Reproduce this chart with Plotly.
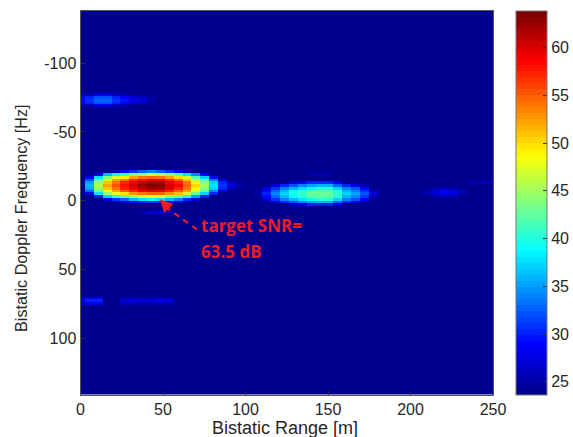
import numpy as np
import plotly.graph_objects as go

FLOOR = 23.7
RANGE_STEP = 5.38
DOPPLER_STEP = 2

# Each band: first Doppler row [Hz], first range-cell index, then dB values by row
main_start = (-21, 1)
main_band = [
    [24,24,24,26,28,31,33,34,33,31,29,26,24,24,24,24,24,24],
    [24,28,36,39,41,44,45,47,46,44,42,38,34,29,24,24,24,24],
    [28,38,44,47,49,52,54,55,54,52,50,47,42,37,29,24,24,24],
    [32,42,49,52,54,57,58,60,59,57,55,51,47,42,34,27,24,24],
    [35,45,51,54,57,59,61,62,62,59,57,54,49,44,37,30,26,24],
    [36,46,52.5,55.5,58,60.5,62,63.5,63,60.5,58.5,55,50.5,45.5,38,31,27,25.5],
    [35,45,51,54,57,59,61,62.5,62,59.5,57,54,49,44,37,30,26,24],
    [33,43,49,52,55,57,59,60,59,57,55,52,47,42,34,27,24,24],
    [28,38,45,48,50,53,54,55,55,53,51,47,43,37,30,24,24,24],
    [24,30,37,40,43,45,47,48,47,45,43,40,35,30,24,24,24,24],
    [24,24,28,31,33,36,38,39,38,36,34,30,27,24,24,24,24,24],
    [24,24,24,25,27,29,30,31,30,29,27,25,24,24,24,24,24,24],
]
second_start = (-13, 20)
second_band = [
    [24,24,24,24,27,28,30,30,30,28,24,24,24,24],
    [24,24,27,30,32,34,35,36,36,33,30,28,25,24],
    [24,27,31,34,36,38,39,40,40,37,34,32,29,24],
    [24.5,29,33,36,39,40,42,42,42,40,36,34,31,26],
    [25.5,30,34,37,39.5,41,42.5,43,43,40.5,37,35,32,27],
    [24.5,29,33,36,39,40,42,42,42,40,36,34,31,26],
    [24,27,31,34,36,38,39,40,40,37,34,32,29,24],
    [24,24,27,30,32,34,35,36,36,33,30,28,25,24],
    [24,24,24,24,27,28,30,30,30,28,24,24,24,24],
]
third_start = (-9, 39)
third_band = [
    [24,25,26,25.5,24],
    [25,27,29,28,26],
    [25,27,28.5,28,25.5],
    [24,25,26,25,24],
]
upper_start = (-77, 0)
upper_band = [
    [25,26,28,28,26,25,24,24,24],
    [28,30,32,32,30,28.5,27,26,24.5],
    [29,31,33,33,31,29.5,28,27,25.5],
    [28,30,32,32,30,28.5,27,26,24.5],
    [25,26,28,28,26,25,24,24,24],
]
lower_start = (71, 0)
lower_band = [
    [26,28,28,24,24,25,26,25,25,26,25.5],
    [28,30,30,24,24,27,28,27,27,28,27.5],
    [26,28,28,24,24,25,26,25,25,26,25.5],
]
faint_near_start = (9, 7)
faint_near_band = [[25.5,27,27,26]]
faint_mid_start = (-19, 26)
faint_mid_band = [[25,25.5,25.5]]
faint_far_start = (-13, 44)
faint_far_band = [[25,26,26]]

x_ticks = [0, 50, 100, 150, 200, 250]
y_ticks = [-100, -50, 0, 50, 100]
y_tick_labels = ["-100", "-50", "0", "50", "100"]
cbar_ticks = [25, 30, 35, 40, 45, 50, 55, 60]

ranges = np.arange(47) * RANGE_STEP
dopplers = np.arange(-141, 142, DOPPLER_STEP)
z = np.full((len(dopplers), len(ranges)), FLOOR)

for (d0, k0), band in [
    (main_start, main_band), (second_start, second_band), (third_start, third_band),
    (upper_start, upper_band), (lower_start, lower_band), (faint_near_start, faint_near_band),
    (faint_mid_start, faint_mid_band), (faint_far_start, faint_far_band),
]:
    r0 = (d0 + 141) // DOPPLER_STEP
    for i, row in enumerate(band):
        for j, v in enumerate(row):
            z[r0 + i, k0 + j] = max(FLOOR, v) if v > 24 else FLOOR


def jet(t):
    anchors = [0, 1/8, 3/8, 5/8, 7/8, 1]
    r = np.interp(t, anchors, [0, 0, 0, 1, 1, 0.5])
    g = np.interp(t, anchors, [0, 0, 1, 1, 0, 0])
    b = np.interp(t, anchors, [0.5625, 1, 1, 0, 0, 0])
    return f"rgb({int(r*255)},{int(g*255)},{int(b*255)})"


levels = 64
colorscale = []
for i in range(levels):
    c = jet(i / (levels - 1))
    colorscale.append([i / levels, c])
    colorscale.append([(i + 1) / levels, c])

TEXT = "#262626"
FONT = "Liberation Sans"
AXIS = "#555555"
RED = "#ee1c25"

# pixel frame of the reference
W, H = 573, 437
ML, MR, MT, MB = 10, 5, 3, 5
PW, PH = W - ML - MR, H - MT - MB
LEFT, RIGHT, TOP, BOTTOM = 80.5, 493, 11, 394.5
CB_LEFT = 516


fig = go.Figure(go.Heatmap(
    x=ranges, y=dopplers, z=z, zmin=23.64, zmax=63.87, zsmooth=False,
    colorscale=colorscale, hoverinfo="skip",
    colorbar=dict(
        x=(CB_LEFT - ML) / PW, xanchor="left", xpad=0,
        y=(H - MB - (TOP + BOTTOM) / 2) / PH, yanchor="middle", ypad=0,
        len=(BOTTOM - TOP) / PH, lenmode="fraction", thickness=31, thicknessmode="pixels",
        outlinecolor="#777777", outlinewidth=1,
        tickvals=cbar_ticks, ticks="inside", ticklen=4, tickcolor="#333333",
        tickfont=dict(family=FONT, size=16, color=TEXT),
    ),
))

fig.add_shape(type="line", x0=70.6, y0=21, x1=50.5, y1=3.5, xref="x", yref="y",
              line=dict(color=RED, width=2, dash="6px,5px"))
fig.add_annotation(x=48, y=-1, ax=53, ay=5, xref="x", yref="y", axref="x", ayref="y",
                   text="", showarrow=True, arrowhead=2, arrowsize=1.3, arrowwidth=2,
                   arrowcolor=RED)
fig.add_annotation(x=71.8, y=18, xref="x", yref="y", xanchor="left", yanchor="middle",
                   text="<b>target SNR=</b>", showarrow=False,
                   font=dict(family="Open Sans", size=17, color=RED))
fig.add_annotation(x=71.8, y=37, xref="x", yref="y", xanchor="left", yanchor="middle",
                   text="<b>63.5 dB</b>", showarrow=False,
                   font=dict(family="Open Sans", size=17, color=RED))
fig.add_annotation(xref="paper", yref="paper", x=(285 - ML) / PW, y=(H - MB - 428) / PH,
                   xanchor="center", yanchor="middle", text="Bistatic Range [m]", showarrow=False,
                   font=dict(family=FONT, size=18, color=TEXT))
fig.add_annotation(xref="paper", yref="paper", x=(21 - ML) / PW, y=(H - MB - 218) / PH,
                   xanchor="center", yanchor="middle", text="Bistatic Doppler Frequency [Hz]",
                   textangle=-90, showarrow=False,
                   font=dict(family=FONT, size=16.2, color=TEXT))

fig.update_layout(
    width=W, height=H, autosize=False,
    margin=dict(l=ML, r=MR, t=MT, b=MB, pad=0, autoexpand=False),
    paper_bgcolor="white", plot_bgcolor="white",
    font=dict(family=FONT, color=TEXT, size=16),
    xaxis=dict(range=[0, 250], tickvals=x_ticks, ticks="inside", ticklen=4, tickcolor="#333333",
               domain=[(LEFT - ML) / PW, (RIGHT - ML) / PW], automargin=False,
               showgrid=False, zeroline=False, showline=True, linecolor=AXIS, linewidth=1, mirror=True,
               tickfont=dict(size=16)),
    yaxis=dict(range=[141, -138], tickvals=y_ticks, ticktext=y_tick_labels, ticks="inside",
               ticklen=4, tickcolor="#333333",
               domain=[(H - MB - BOTTOM) / PH, (H - MB - TOP) / PH], automargin=False,
               showgrid=False, zeroline=False, showline=True, linecolor=AXIS, linewidth=1, mirror=True,
               tickfont=dict(size=16)),
)

fig.write_html("out.html", config={"displayModeBar": False},
               post_script="document.body.style.margin='0';")
